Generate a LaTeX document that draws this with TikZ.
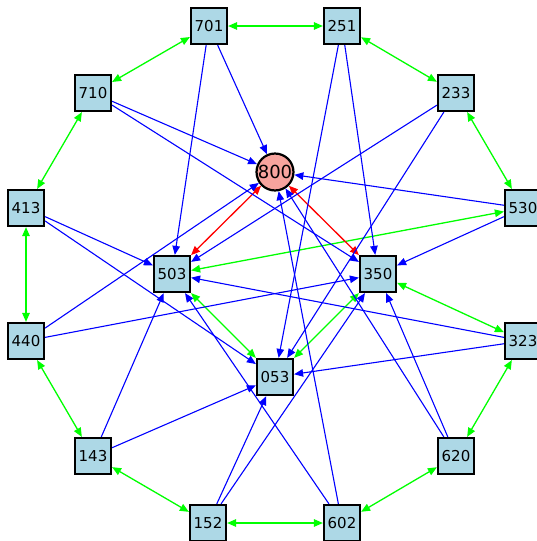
\documentclass[tikz,border=0pt]{standalone}
\usepackage{fontspec}
\setmainfont{DejaVu Sans}
\usetikzlibrary{arrows.meta}
\definecolor{boxfill}{RGB}{173,216,230}
\definecolor{circfill}{RGB}{247,164,158}
\definecolor{gr}{RGB}{0,255,0}
\definecolor{bl}{RGB}{0,0,255}
\definecolor{rd}{RGB}{255,0,0}
\begin{document}
\begin{tikzpicture}[x=1pt,y=-1pt,
  sq/.style={draw=black,line width=2.2pt,fill=boxfill,minimum size=36pt,inner sep=0pt,font=\fontsize{15}{16}\selectfont},
  ci/.style={circle,draw=black,line width=2.2pt,fill=circfill,minimum size=35pt,inner sep=0pt,font=\fontsize{18}{19}\selectfont},
  bd/.style={draw=gr,line width=1.3pt,{Triangle[length=9pt,width=7.5pt]}-{Triangle[length=9pt,width=7.5pt]}},
  rd2/.style={draw=rd,line width=1.3pt,{Triangle[length=9pt,width=7.5pt]}-{Triangle[length=9pt,width=7.5pt]}},
  be/.style={draw=bl,line width=1.1pt,-{Triangle[length=9pt,width=7.5pt]}}]
\useasboundingbox (0,0) rectangle (537,541);
\node[sq] (n701) at (209,26) {701};
\node[sq] (n251) at (342,26) {251};
\node[sq] (n710) at (93,93) {710};
\node[sq] (n233) at (456,93) {233};
\node[sq] (n413) at (26,208) {413};
\node[sq] (n530) at (523,208) {530};
\node[sq] (n440) at (26,341) {440};
\node[sq] (n323) at (523,341) {323};
\node[sq] (n143) at (93,456) {143};
\node[sq] (n620) at (456,456) {620};
\node[sq] (n152) at (208,523) {152};
\node[sq] (n602) at (342,523) {602};
\node[sq] (n503) at (172,274) {503};
\node[sq] (n350) at (378,274) {350};
\node[sq] (n053) at (275,377) {053};
\node[ci] (n800) at (275,172) {800};
% green outer ring
\draw[bd] (n701) -- (n251);
\draw[bd] (n251) -- (n233);
\draw[bd] (n233) -- (n530);
\draw[bd] (n323) -- (n620);
\draw[bd] (n620) -- (n602);
\draw[bd] (n602) -- (n152);
\draw[bd] (n152) -- (n143);
\draw[bd] (n143) -- (n440);
\draw[bd] (n440) -- (n413);
\draw[bd] (n413) -- (n710);
\draw[bd] (n710) -- (n701);
% green inner
\draw[bd] (n530) -- (n503);
\draw[bd] (n323) -- (n350);
\draw[bd] (n503) -- (n053);
\draw[bd] (n350) -- (n053);
% red
\draw[rd2] (n800) -- (n503);
\draw[rd2] (n800) -- (n350);
% blue
\draw[be] (n701) -- (n800);
\draw[be] (n701) -- (n503);
\draw[be] (n710) -- (n800);
\draw[be] (n710) -- (n350);
\draw[be] (n251) -- (n350);
\draw[be] (n251) -- (n053);
\draw[be] (n233) -- (n503);
\draw[be] (n233) -- (n053);
\draw[be] (n530) -- (n800);
\draw[be] (n530) -- (n350);
\draw[be] (n413) -- (n503);
\draw[be] (n413) -- (n053);
\draw[be] (n440) -- (n800);
\draw[be] (n440) -- (n350);
\draw[be] (n323) -- (n503);
\draw[be] (n323) -- (n053);
\draw[be] (n143) -- (n503);
\draw[be] (n143) -- (n053);
\draw[be] (n152) -- (n053);
\draw[be] (n152) -- (n350);
\draw[be] (n602) -- (n800);
\draw[be] (n602) -- (n503);
\draw[be] (n620) -- (n800);
\draw[be] (n620) -- (n350);
\end{tikzpicture}
\end{document}
